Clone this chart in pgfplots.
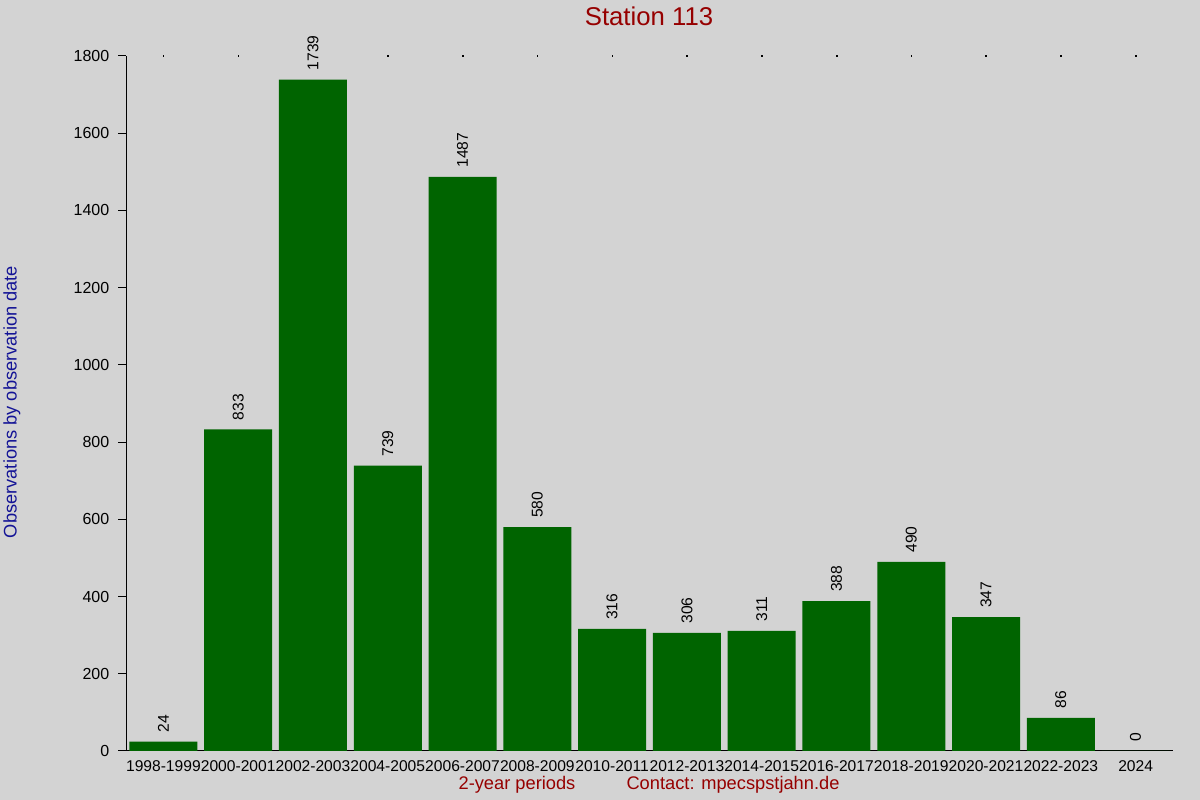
\documentclass[border=0pt]{standalone}
\usepackage{fontspec}
\setmainfont{Liberation Sans}
\usepackage{pgfplots}
\pgfplotsset{compat=1.18}

\definecolor{bgc}{HTML}{D3D3D3}
\definecolor{barc}{HTML}{006400}
\definecolor{redc}{RGB}{150,0,0}
\definecolor{bluec}{RGB}{20,20,150}

\begin{document}
\begin{tikzpicture}
\fill[bgc] (0,0) rectangle (900pt,600pt);
\begin{axis}[
    at={(94.5pt,36.75pt)}, anchor=south west,
    scale only axis,
    width=785.25pt, height=521.25pt,
    xmin=-0.5, xmax=13.5,
    ymin=0, ymax=1800,
    axis x line=bottom, axis y line=left,
    axis line style={-, line width=0.75pt, black},
    xtick={0,...,13},
    xticklabels={1998-1999,2000-2001,2002-2003,2004-2005,2006-2007,2008-2009,2010-2011,2012-2013,2014-2015,2016-2017,2018-2019,2020-2021,2022-2023,2024},
    x tick style={draw=none},
    ytick={0,200,...,1800},
    tick align=outside,
    major tick length=6pt,
    y tick style={black, line width=0.75pt},
    x tick label style={font=\fontsize{11.7}{13}\selectfont, text=black, yshift=2.25pt},
    y tick label style={font=\fontsize{12}{13}\selectfont, text=black, xshift=-3pt},
    /pgf/number format/assume math mode=true,
    /pgf/number format/1000 sep={},
    clip=false,
]
\addplot[ybar, bar width=51pt, fill=barc, draw=none,
    nodes near coords,
    nodes near coords style={rotate=90, anchor=west, inner sep=0pt, inner xsep=6.75pt,
        font=\fontsize{11.7}{13}\selectfont, text=black}]
coordinates {
    (0,24) (1,833) (2,1739) (3,739) (4,1487) (5,580) (6,316)
    (7,306) (8,311) (9,388) (10,490) (11,347) (12,86) (13,0)
};
\addplot[only marks, mark=square*, mark size=0.25pt, black] coordinates {
    (0,1800) (1,1800) (3,1800) (4,1800) (5,1800) (6,1800) (7,1800)
    (8,1800) (9,1800) (10,1800) (11,1800) (12,1800) (13,1800)
};
\end{axis}
\node[font=\fontsize{19.3}{23}\selectfont, text=redc] at (486.75pt,588pt) {Station 113};
\node[rotate=90, font=\fontsize{13.7}{16}\selectfont, text=bluec] at (9pt,298.5pt) {Observations by observation date};
\node[font=\fontsize{13.7}{16}\selectfont, text=redc] at (387.75pt,11.25pt) {2-year periods};
\node[font=\fontsize{13.7}{16}\selectfont, text=redc] at (549.75pt,11.25pt) {Contact: mpecspstjahn.de};
\pgfresetboundingbox
\useasboundingbox (0,0) rectangle (900pt,600pt);
\end{tikzpicture}
\end{document}
